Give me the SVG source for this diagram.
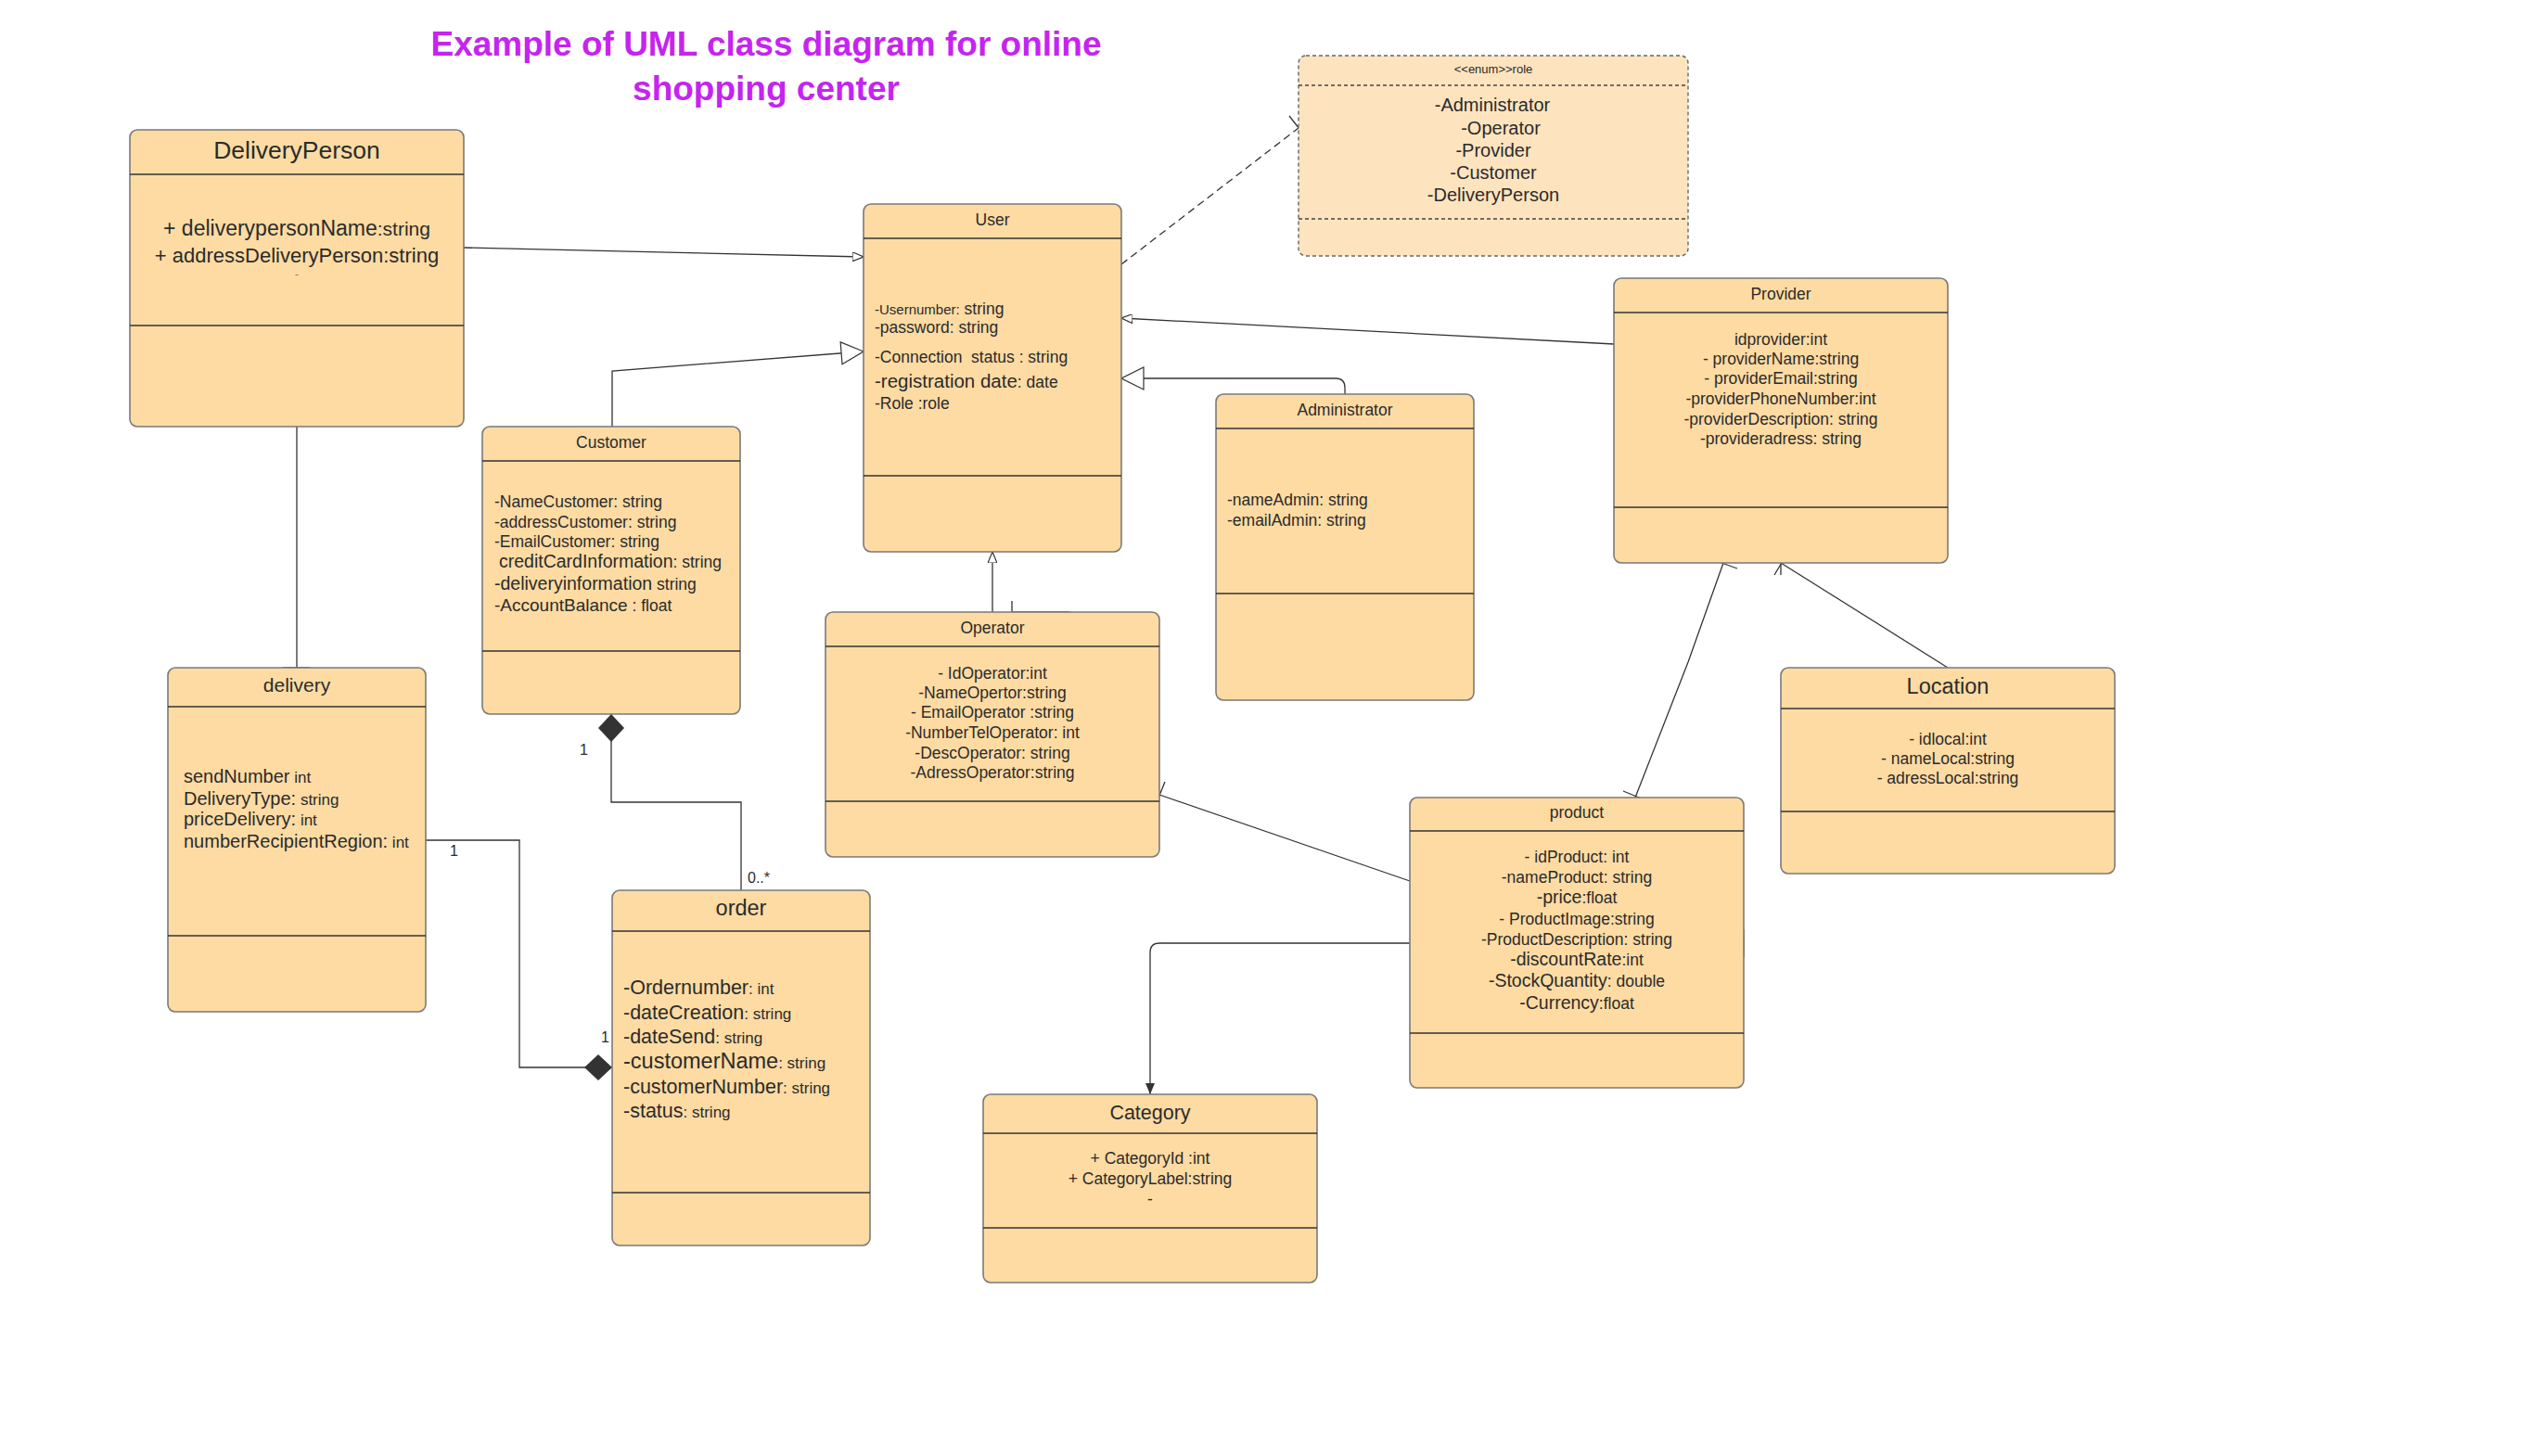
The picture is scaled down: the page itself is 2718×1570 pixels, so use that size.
<svg xmlns="http://www.w3.org/2000/svg" width="2718" height="1570" viewBox="0 0 2718 1570">
<style>
.box{fill:#fddba3;stroke:#7a7a7a;stroke-width:1.6}
.enum{fill:#fde4bf;stroke:#666;stroke-width:1.4;stroke-dasharray:4 3}
.div{stroke:#333;stroke-width:1.3}
.ddiv{stroke:#444;stroke-width:1.3;stroke-dasharray:4 3}
text{font-family:"Liberation Sans",Arial,sans-serif;fill:#2b2b2b}
.t{font-size:17.5px;text-anchor:middle}
.a{font-size:17.5px}
.c{font-size:17.5px;text-anchor:middle}
.s{font-size:16px}
.con{fill:none;stroke:#333;stroke-width:1.3}
.title{font-size:37px;font-weight:bold;fill:#c524f0;text-anchor:middle}
</style>
<defs>
<marker id="openTri" viewBox="0 0 12 10" refX="12" refY="5" markerWidth="12" markerHeight="10" markerUnits="userSpaceOnUse" orient="auto">
<path d="M0,0 L12,5 L0,10 Z" fill="#fff" stroke="#333" stroke-width="1.2"/>
</marker>
<marker id="bigTri" viewBox="0 0 26 26" refX="25" refY="13" markerWidth="26" markerHeight="26" markerUnits="userSpaceOnUse" orient="auto">
<path d="M1,1 L25,13 L1,25 Z" fill="#fff" stroke="#333" stroke-width="1.2"/>
</marker>
<marker id="diamond" viewBox="0 0 30 28" refX="30" refY="14" markerWidth="30" markerHeight="28" markerUnits="userSpaceOnUse" orient="auto">
<path d="M0,14 L15,0 L30,14 L15,28 Z" fill="#333"/>
</marker>
<marker id="fillArrow" viewBox="0 0 12 10" refX="12" refY="5" markerWidth="12" markerHeight="10" markerUnits="userSpaceOnUse" orient="auto">
<path d="M0,0 L12,5 L0,10 Z" fill="#333"/>
</marker>
</defs>
<rect width="2718" height="1570" fill="#fff"/>

<g id="title">
<text class="title" x="826" y="60">Example of UML class diagram for online</text>
<text class="title" x="826" y="108">shopping center</text>
</g>

<g id="connectors">
<path class="con" d="M500,267 L931,277" marker-end="url(#openTri)"/>
<path class="con" d="M660,460 L660,400 L931,379" marker-end="url(#bigTri)"/>
<path class="con" d="M1209,285 L1400,138" stroke-dasharray="8 5"/>
<line class="con" x1="1390" y1="125" x2="1408" y2="148"/>
<path class="con" d="M1740,371 L1209,343" marker-end="url(#openTri)"/>
<path class="con" d="M1450,425 L1450,418 Q1450,408 1440,408 L1209,408" marker-end="url(#bigTri)"/>
<path class="con" d="M1070,660 L1070,595" marker-end="url(#openTri)"/>
<line class="con" x1="1091" y1="648" x2="1091" y2="675"/>
<line class="con" x1="1091" y1="660" x2="1153" y2="660"/>
<path class="con" d="M1250,857 L1520,950"/>
<line class="con" x1="1245" y1="870" x2="1256" y2="843"/>
<line class="con" x1="1880" y1="1002" x2="1880" y2="1032" stroke-width="2.6"/>
<path class="con" d="M799,960 L799,865 L659,865 L659,770" marker-end="url(#diamond)"/>
<path class="con" d="M459,906 L560,906 L560,1151 L660,1151" marker-end="url(#diamond)"/>
<path class="con" d="M320,460 L320,720"/>
<line class="con" x1="305" y1="720" x2="334" y2="720" stroke-width="2"/>
<path class="con" d="M1858,607 L1820,714 L1763,860"/>
<line class="con" x1="1845" y1="603" x2="1873" y2="613"/>
<line class="con" x1="1750" y1="853" x2="1777" y2="864"/>
<path class="con" d="M2100,720 L1920,607"/>
<line class="con" x1="1920" y1="593" x2="1920" y2="620"/>
<line class="con" x1="1913" y1="620" x2="1928" y2="595"/>
<path class="con" d="M1520,1017 L1250,1017 Q1240,1017 1240,1027 L1240,1180" marker-end="url(#fillArrow)"/>
<text class="s" x="625" y="814">1</text>
<text class="s" x="806" y="952">0..*</text>
<text class="s" x="485" y="923">1</text>
<text class="s" x="648" y="1124">1</text>
</g>

<g id="DeliveryPerson">
<rect class="box" x="140" y="140" width="360" height="320" rx="8"/>
<line class="div" x1="140" y1="188" x2="500" y2="188"/>
<line class="div" x1="140" y1="351" x2="500" y2="351"/>
<text x="320" y="171" style="font-size:26.5px;text-anchor:middle">DeliveryPerson</text>
<text x="320" y="254" style="text-anchor:middle;font-size:23px">+ deliverypersonName<tspan style="font-size:21px">:string</tspan></text>
<text x="320" y="283" style="text-anchor:middle;font-size:22px">+ addressDeliveryPerson:string</text>
<text x="320" y="300" style="text-anchor:middle;font-size:13px;fill:#888">-</text>
</g>

<g id="User">
<rect class="box" x="931" y="220" width="278" height="375" rx="8"/>
<line class="div" x1="931" y1="257" x2="1209" y2="257"/>
<line class="div" x1="931" y1="513" x2="1209" y2="513"/>
<text class="t" x="1070" y="243">User</text>
<text class="a" x="943" y="339"><tspan style="font-size:15px">-Usernumber:</tspan> string</text>
<text class="a" x="943" y="359">-password: string</text>
<text class="a" x="943" y="391" xml:space="preserve">-Connection  status : string</text>
<text class="a" x="943" y="418"><tspan style="font-size:20.5px">-registration date</tspan>: date</text>
<text class="a" x="943" y="441">-Role :role</text>
</g>

<g id="role">
<rect class="enum" x="1400" y="60" width="420" height="216" rx="8"/>
<line class="ddiv" x1="1400" y1="92" x2="1820" y2="92"/>
<line class="ddiv" x1="1400" y1="236" x2="1820" y2="236"/>
<text x="1610" y="79" style="font-size:13px;text-anchor:middle">&lt;&lt;enum&gt;&gt;role</text>
<text x="1609" y="120" style="font-size:20px;text-anchor:middle">-Administrator</text>
<text x="1618" y="145" style="font-size:20px;text-anchor:middle">-Operator</text>
<text x="1610" y="169" style="font-size:20px;text-anchor:middle">-Provider</text>
<text x="1610" y="193" style="font-size:20px;text-anchor:middle">-Customer</text>
<text x="1610" y="217" style="font-size:20px;text-anchor:middle">-DeliveryPerson</text>
</g>

<g id="Customer">
<rect class="box" x="520" y="460" width="278" height="310" rx="8"/>
<line class="div" x1="520" y1="497" x2="798" y2="497"/>
<line class="div" x1="520" y1="702" x2="798" y2="702"/>
<text class="t" x="659" y="483">Customer</text>
<text class="a" x="533" y="547">-NameCustomer: string</text>
<text class="a" x="533" y="569">-addressCustomer: string</text>
<text class="a" x="533" y="590">-EmailCustomer: string</text>
<text class="a" x="538" y="612"><tspan style="font-size:19.5px">creditCardInformation</tspan>: string</text>
<text class="a" x="533" y="636"><tspan style="font-size:19.5px">-deliveryinformation</tspan> string</text>
<text class="a" x="533" y="659"><tspan style="font-size:19px">-AccountBalance</tspan> : float</text>
</g>

<g id="Administrator">
<rect class="box" x="1311" y="425" width="278" height="330" rx="8"/>
<line class="div" x1="1311" y1="462" x2="1589" y2="462"/>
<line class="div" x1="1311" y1="640" x2="1589" y2="640"/>
<text class="t" x="1450" y="448">Administrator</text>
<text class="a" x="1323" y="545">-nameAdmin: string</text>
<text class="a" x="1323" y="567">-emailAdmin: string</text>
</g>

<g id="Provider">
<rect class="box" x="1740" y="300" width="360" height="307" rx="8"/>
<line class="div" x1="1740" y1="337" x2="2100" y2="337"/>
<line class="div" x1="1740" y1="547" x2="2100" y2="547"/>
<text class="t" x="1920" y="323">Provider</text>
<text class="c" x="1920" y="372">idprovider:int</text>
<text class="c" x="1920" y="393">- providerName:string</text>
<text class="c" x="1920" y="414">- providerEmail:string</text>
<text class="c" x="1920" y="436">-providerPhoneNumber:int</text>
<text class="c" x="1920" y="458">-providerDescription: string</text>
<text class="c" x="1920" y="479">-provideradress: string</text>
</g>

<g id="Operator">
<rect class="box" x="890" y="660" width="360" height="264" rx="8"/>
<line class="div" x1="890" y1="697" x2="1250" y2="697"/>
<line class="div" x1="890" y1="864" x2="1250" y2="864"/>
<text class="t" x="1070" y="683">Operator</text>
<text class="c" x="1070" y="732">- IdOperator:int</text>
<text class="c" x="1070" y="753">-NameOpertor:string</text>
<text class="c" x="1070" y="774">- EmailOperator :string</text>
<text class="c" x="1070" y="796">-NumberTelOperator: int</text>
<text class="c" x="1070" y="818">-DescOperator: string</text>
<text class="c" x="1070" y="839">-AdressOperator:string</text>
</g>

<g id="delivery">
<rect class="box" x="181" y="720" width="278" height="371" rx="8"/>
<line class="div" x1="181" y1="762" x2="459" y2="762"/>
<line class="div" x1="181" y1="1009" x2="459" y2="1009"/>
<text x="320" y="746" style="font-size:21px;text-anchor:middle">delivery</text>
<text x="198" y="844" style="font-size:20px">sendNumber<tspan style="font-size:17px"> int</tspan></text>
<text x="198" y="868" style="font-size:20px">DeliveryType:<tspan style="font-size:17px"> string</tspan></text>
<text x="198" y="890" style="font-size:20px">priceDelivery:<tspan style="font-size:17px"> int</tspan></text>
<text x="198" y="914" style="font-size:20px">numberRecipientRegion:<tspan style="font-size:17px"> int</tspan></text>
</g>

<g id="order">
<rect class="box" x="660" y="960" width="278" height="383" rx="8"/>
<line class="div" x1="660" y1="1004" x2="938" y2="1004"/>
<line class="div" x1="660" y1="1286" x2="938" y2="1286"/>
<text x="799" y="987" style="font-size:23.5px;text-anchor:middle">order</text>
<text x="672" y="1072" style="font-size:21.5px">-Ordernumber<tspan style="font-size:17px">: int</tspan></text>
<text x="672" y="1099" style="font-size:21.5px">-dateCreation<tspan style="font-size:17px">: string</tspan></text>
<text x="672" y="1125" style="font-size:21.5px">-dateSend<tspan style="font-size:17px">: string</tspan></text>
<text x="672" y="1152" style="font-size:23.5px">-customerName<tspan style="font-size:17px">: string</tspan></text>
<text x="672" y="1179" style="font-size:21.5px">-customerNumber<tspan style="font-size:17px">: string</tspan></text>
<text x="672" y="1205" style="font-size:21.5px">-status<tspan style="font-size:17px">: string</tspan></text>
</g>

<g id="product">
<rect class="box" x="1520" y="860" width="360" height="313" rx="8"/>
<line class="div" x1="1520" y1="896" x2="1880" y2="896"/>
<line class="div" x1="1520" y1="1114" x2="1880" y2="1114"/>
<text class="t" x="1700" y="882">product</text>
<text class="c" x="1700" y="930">- idProduct: int</text>
<text class="c" x="1700" y="952">-nameProduct: string</text>
<text class="c" x="1700" y="974"><tspan style="font-size:19.5px">-price</tspan>:float</text>
<text class="c" x="1700" y="997">- ProductImage:string</text>
<text class="c" x="1700" y="1019">-ProductDescription: string</text>
<text class="c" x="1700" y="1041"><tspan style="font-size:19.5px">-discountRate</tspan>:int</text>
<text class="c" x="1700" y="1064"><tspan style="font-size:19.5px">-StockQuantity</tspan>: double</text>
<text class="c" x="1700" y="1088"><tspan style="font-size:19.5px">-Currency</tspan>:float</text>
</g>

<g id="Location">
<rect class="box" x="1920" y="720" width="360" height="222" rx="8"/>
<line class="div" x1="1920" y1="764" x2="2280" y2="764"/>
<line class="div" x1="1920" y1="875" x2="2280" y2="875"/>
<text x="2100" y="748" style="font-size:23.5px;text-anchor:middle">Location</text>
<text class="c" x="2100" y="803">- idlocal:int</text>
<text class="c" x="2100" y="824">- nameLocal:string</text>
<text class="c" x="2100" y="845">- adressLocal:string</text>
</g>

<g id="Category">
<rect class="box" x="1060" y="1180" width="360" height="203" rx="8"/>
<line class="div" x1="1060" y1="1222" x2="1420" y2="1222"/>
<line class="div" x1="1060" y1="1324" x2="1420" y2="1324"/>
<text x="1240" y="1207" style="font-size:21.5px;text-anchor:middle">Category</text>
<text class="c" x="1240" y="1255">+ CategoryId :int</text>
<text class="c" x="1240" y="1277">+ CategoryLabel:string</text>
<text class="c" x="1240" y="1299">-</text>
</g>
</svg>
